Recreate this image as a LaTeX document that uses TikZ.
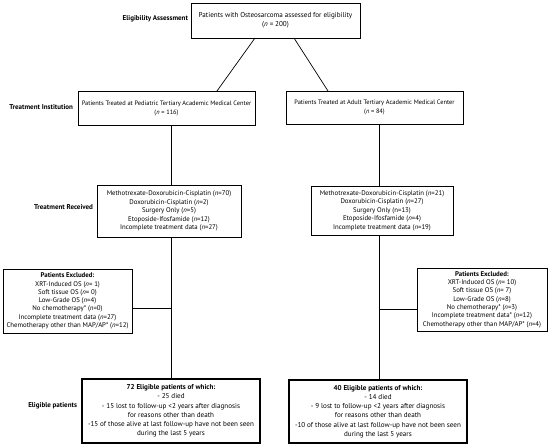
\documentclass[tikz,border=0pt]{standalone}
\usepackage{fontspec}
\setmainfont{PT Sans}
\begin{document}
\begin{tikzpicture}[x=1pt,y=-1pt,
  every node/.style={inner sep=0pt,outer sep=0pt},
  box/.style={draw,line width=0.7pt,align=center},
  topbox/.style={box,font=\fontsize{7.1}{9.5}\selectfont},
  instbox/.style={box,font=\fontsize{6.4}{9}\selectfont},
  trbox/.style={box,font=\fontsize{6.8}{8.5}\selectfont},
  xbox/.style={box,line width=0.9pt,font=\fontsize{6.8}{8.3}\selectfont},
  elbox/.style={box,line width=1.1pt,font=\fontsize{7.1}{9.2}\selectfont},
  lab/.style={anchor=east,font=\fontsize{7}{8.6}\selectfont\bfseries},
  conn/.style={line width=0.7pt}]
\useasboundingbox (0,0) rectangle (550,447);
\node[topbox,minimum width=169pt,minimum height=35pt] (top) at (275.5,20.5)
  {Patients with Osteosarcoma assessed for eligibility\\(\textit{n} = 200)};
\node[instbox,minimum width=177pt,minimum height=34pt] (li) at (166.5,108)
  {Patients Treated at Pediatric Tertiary Academic Medical Center\\(\textit{n} = 116)};
\node[instbox,minimum width=177pt,minimum height=33pt] (ri) at (374.5,107.5)
  {Patients Treated at Adult Tertiary Academic Medical Center\\(\textit{n} = 84)};
\node[trbox,minimum width=144pt,minimum height=52pt] (lt) at (169,211)
  {Methotrexate-Doxorubicin-Cisplatin (\textit{n}=70)\\Doxorubicin-Cisplatin (\textit{n}=2)\\Surgery Only (\textit{n}=5)\\Etoposide-Ifosfamide (\textit{n}=12)\\Incomplete treatment data (\textit{n}=27)};
\node[trbox,minimum width=142pt,minimum height=49pt] (rt) at (382,210.5)
  {Methotrexate-Doxorubicin-Cisplatin (\textit{n}=21)\\Doxorubicin-Cisplatin (\textit{n}=27)\\Surgery Only (n=13)\\Etoposide-Ifosfamide (\textit{n}=4)\\Incomplete treatment data (\textit{n}=19)};
\node[xbox,minimum width=129pt,minimum height=64pt] (lx) at (67.5,301)
  {\textbf{Patients Excluded:}\\XRT-Induced OS (\textit{n}= 1)\\Soft tissue OS (\textit{n}= 0)\\Low-Grade OS (\textit{n}=4)\\No chemotherapy* (\textit{n}=0)\\Incomplete treatment data (\textit{n}=27)\\Chemotherapy other than MAP/AP* (\textit{n}=12)};
\node[xbox,minimum width=130pt,minimum height=63pt] (rx) at (482,299.5)
  {\textbf{Patients Excluded:}\\XRT-Induced OS (\textit{n}= 10)\\Soft tissue OS (\textit{n}= 7)\\Low-Grade OS (\textit{n}=8)\\No chemotherapy* (\textit{n}=3)\\Incomplete treatment data* (\textit{n}=12)\\Chemotherapy other than MAP/AP* (\textit{n}=4)};
\node[elbox,minimum width=178pt,minimum height=64pt] (le) at (171,411)
  {\textbf{72 Eligible patients of which:}\\- 25 died\\- 15 lost to follow-up <2 years after diagnosis\\for reasons other than death\\-15 of those alive at last follow-up have not been seen\\during the last 5 years};
\node[elbox,minimum width=178pt,minimum height=63pt] (re) at (378,411.5)
  {\textbf{40 Eligible patients of which:}\\- 14 died\\- 9 lost to follow-up <2 years after diagnosis\\for reasons other than death\\-10 of those alive at last follow-up have not been seen\\during the last 5 years};
\node[lab] (l1) at (188,19) {Eligibility Assessment};
\node[lab] (l2) at (73,107) {Treatment Institution};
\node[lab] (l3) at (93,207) {Treatment Received};
\node[lab] (l4) at (77,406) {Eligible patients};
\coordinate (colL) at (171,0);
\coordinate (colR) at (379,0);
\draw[conn] ([xshift=-20.5pt]top.south) -- ([xshift=50.5pt]li.north);
\draw[conn] ([xshift=18.5pt]top.south) -- ([xshift=-46.5pt]ri.north);
\draw[conn] (li.south -| colL) -- (lt.north -| colL);
\draw[conn] (lt.south -| colL) -- (le.north -| colL);
\draw[conn] ([yshift=-7pt]lx.east) -- ([yshift=-7pt]lx.east -| colL);
\draw[conn] (ri.south -| colR) -- (rt.north -| colR);
\draw[conn] (rt.south -| colR) -- (re.north -| colR);
\draw[conn] ([yshift=-9.5pt]rx.west) -- ([yshift=-9.5pt]rx.west -| colR);
\end{tikzpicture}
\end{document}
